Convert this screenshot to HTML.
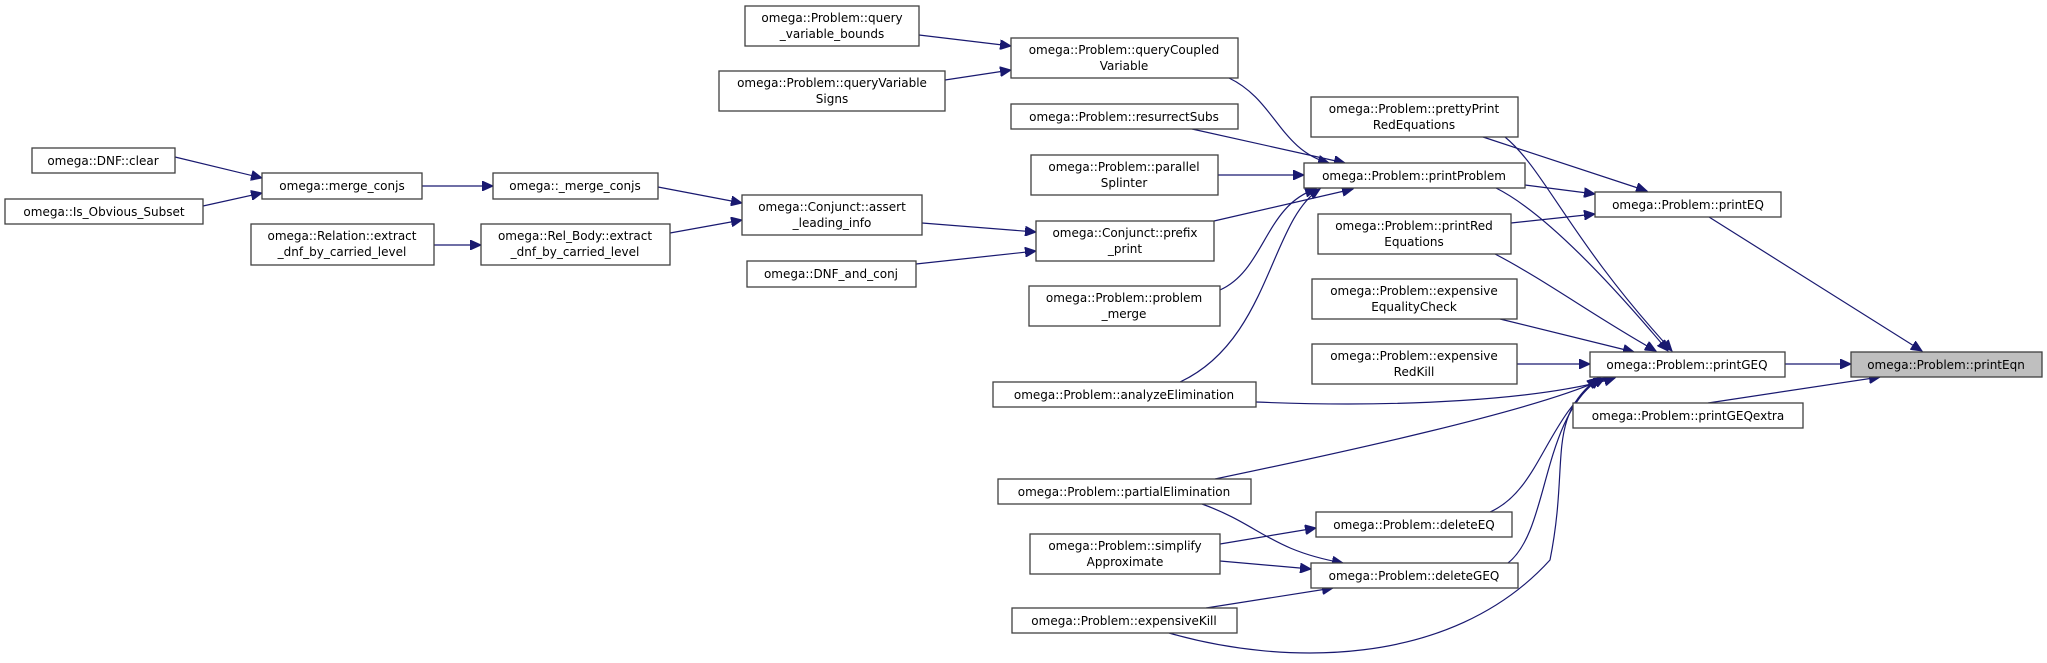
<!DOCTYPE html>
<html><head><meta charset="utf-8">
<style>
html,body{margin:0;padding:0;background:#fff;}
svg{display:block;}
text{font-family:"DejaVu Sans","Liberation Sans",sans-serif;font-size:12px;fill:#000;}
.n{fill:#fff;stroke:#404040;stroke-width:1.3;}
.e{fill:none;stroke:#191970;stroke-width:1.2;marker-end:url(#a);}
</style></head><body>
<svg width="2047" height="663" viewBox="0 0 2047 663" xmlns="http://www.w3.org/2000/svg">
<defs>
<marker id="a" markerUnits="userSpaceOnUse" markerWidth="12" markerHeight="10" refX="11" refY="5" orient="auto">
<path d="M0,0 L11,5 L0,10 Z" fill="#191970" stroke="#191970"/>
</marker>
</defs>

<!-- edges -->
<path class="e" d="M175,157 L262,178"/>
<path class="e" d="M203,206 L262,193"/>
<path class="e" d="M422,186 L493,186"/>
<path class="e" d="M658,187 L742,203"/>
<path class="e" d="M434,245 L481,245"/>
<path class="e" d="M670,233 L742,220"/>
<path class="e" d="M919,35 L1011,46"/>
<path class="e" d="M945,80 L1011,70"/>
<path class="e" d="M922,223 L1036,232"/>
<path class="e" d="M916,264 L1036,251"/>
<path class="e" d="M1229,78 C1275,100 1280,150 1329,163"/>
<path class="e" d="M1192,129 L1345,163"/>
<path class="e" d="M1218,175 L1304,175"/>
<path class="e" d="M1214,221 L1353,189"/>
<path class="e" d="M1220,290 C1265,270 1265,205 1316,189"/>
<path class="e" d="M1180,382 C1270,340 1270,220 1320,189"/>
<path class="e" d="M1483,137 L1647,191"/>
<path class="e" d="M1525,185 L1595,194"/>
<path class="e" d="M1511,223 L1595,214"/>
<path class="e" d="M1709,217 L1922,351"/>
<path class="e" d="M1505,137 C1545,170 1570,240 1672,351"/>
<path class="e" d="M1496,188 C1540,210 1600,270 1668,351"/>
<path class="e" d="M1495,254 C1545,280 1600,320 1656,351"/>
<path class="e" d="M1500,319 L1634,352"/>
<path class="e" d="M1517,364 L1590,364"/>
<path class="e" d="M1256,402 C1400,408 1540,400 1615,378"/>
<path class="e" d="M1215,479 C1330,455 1540,410 1605,378"/>
<path class="e" d="M1490,512 C1540,490 1545,420 1600,378"/>
<path class="e" d="M1508,563 C1550,530 1540,420 1600,378"/>
<path class="e" d="M1169,633 C1280,665 1450,670 1550,560 C1570,460 1545,420 1598,378"/>
<path class="e" d="M1785,364 L1851,364"/>
<path class="e" d="M1708,403 L1880,377"/>
<path class="e" d="M1202,504 C1260,525 1270,550 1343,563"/>
<path class="e" d="M1220,544 L1316,528"/>
<path class="e" d="M1220,561 L1311,569"/>
<path class="e" d="M1206,608 L1333,588"/>

<!-- nodes -->
<g text-anchor="middle">
<rect class="n" x="745" y="6" width="174" height="40"/><text x="832" y="22">omega::Problem::query</text><text x="832" y="38">_variable_bounds</text>
<rect class="n" x="719" y="71" width="226" height="40"/><text x="832" y="87">omega::Problem::queryVariable</text><text x="832" y="103">Signs</text>
<rect class="n" x="32" y="148" width="143" height="25"/><text x="103" y="165">omega::DNF::clear</text>
<rect class="n" x="262" y="173" width="160" height="26"/><text x="342" y="190">omega::merge_conjs</text>
<rect class="n" x="493" y="173" width="165" height="26"/><text x="575" y="190">omega::_merge_conjs</text>
<rect class="n" x="5" y="199" width="198" height="25"/><text x="104" y="216">omega::Is_Obvious_Subset</text>
<rect class="n" x="742" y="195" width="180" height="40"/><text x="832" y="211">omega::Conjunct::assert</text><text x="832" y="227">_leading_info</text>
<rect class="n" x="251" y="224" width="183" height="41"/><text x="342" y="240">omega::Relation::extract</text><text x="342" y="256">_dnf_by_carried_level</text>
<rect class="n" x="481" y="224" width="189" height="41"/><text x="575" y="240">omega::Rel_Body::extract</text><text x="575" y="256">_dnf_by_carried_level</text>
<rect class="n" x="747" y="261" width="169" height="26"/><text x="831" y="278">omega::DNF_and_conj</text>

<rect class="n" x="1011" y="38" width="227" height="40"/><text x="1124" y="54">omega::Problem::queryCoupled</text><text x="1124" y="70">Variable</text>
<rect class="n" x="1011" y="104" width="227" height="25"/><text x="1124" y="121">omega::Problem::resurrectSubs</text>
<rect class="n" x="1031" y="155" width="187" height="40"/><text x="1124" y="171">omega::Problem::parallel</text><text x="1124" y="187">Splinter</text>
<rect class="n" x="1036" y="221" width="178" height="40"/><text x="1125" y="237">omega::Conjunct::prefix</text><text x="1125" y="253">_print</text>
<rect class="n" x="1029" y="286" width="191" height="40"/><text x="1124" y="302">omega::Problem::problem</text><text x="1124" y="318">_merge</text>
<rect class="n" x="993" y="382" width="263" height="25"/><text x="1124" y="399">omega::Problem::analyzeElimination</text>
<rect class="n" x="998" y="479" width="253" height="25"/><text x="1124" y="496">omega::Problem::partialElimination</text>
<rect class="n" x="1030" y="534" width="190" height="40"/><text x="1125" y="550">omega::Problem::simplify</text><text x="1125" y="566">Approximate</text>
<rect class="n" x="1012" y="608" width="225" height="25"/><text x="1124" y="625">omega::Problem::expensiveKill</text>

<rect class="n" x="1311" y="97" width="207" height="40"/><text x="1414" y="113">omega::Problem::prettyPrint</text><text x="1414" y="129">RedEquations</text>
<rect class="n" x="1304" y="163" width="221" height="25"/><text x="1414" y="180">omega::Problem::printProblem</text>
<rect class="n" x="1318" y="214" width="193" height="40"/><text x="1414" y="230">omega::Problem::printRed</text><text x="1414" y="246">Equations</text>
<rect class="n" x="1312" y="279" width="205" height="40"/><text x="1414" y="295">omega::Problem::expensive</text><text x="1414" y="311">EqualityCheck</text>
<rect class="n" x="1312" y="344" width="205" height="40"/><text x="1414" y="360">omega::Problem::expensive</text><text x="1414" y="376">RedKill</text>
<rect class="n" x="1316" y="512" width="196" height="25"/><text x="1414" y="529">omega::Problem::deleteEQ</text>
<rect class="n" x="1311" y="563" width="207" height="25"/><text x="1414" y="580">omega::Problem::deleteGEQ</text>

<rect class="n" x="1595" y="192" width="186" height="25"/><text x="1688" y="209">omega::Problem::printEQ</text>
<rect class="n" x="1590" y="352" width="195" height="25"/><text x="1687" y="369">omega::Problem::printGEQ</text>
<rect class="n" x="1573" y="403" width="230" height="25"/><text x="1688" y="420">omega::Problem::printGEQextra</text>
<rect class="n" x="1851" y="352" width="191" height="25" style="fill:#bfbfbf"/><text x="1946" y="369">omega::Problem::printEqn</text>
</g>
</svg>
</body></html>
